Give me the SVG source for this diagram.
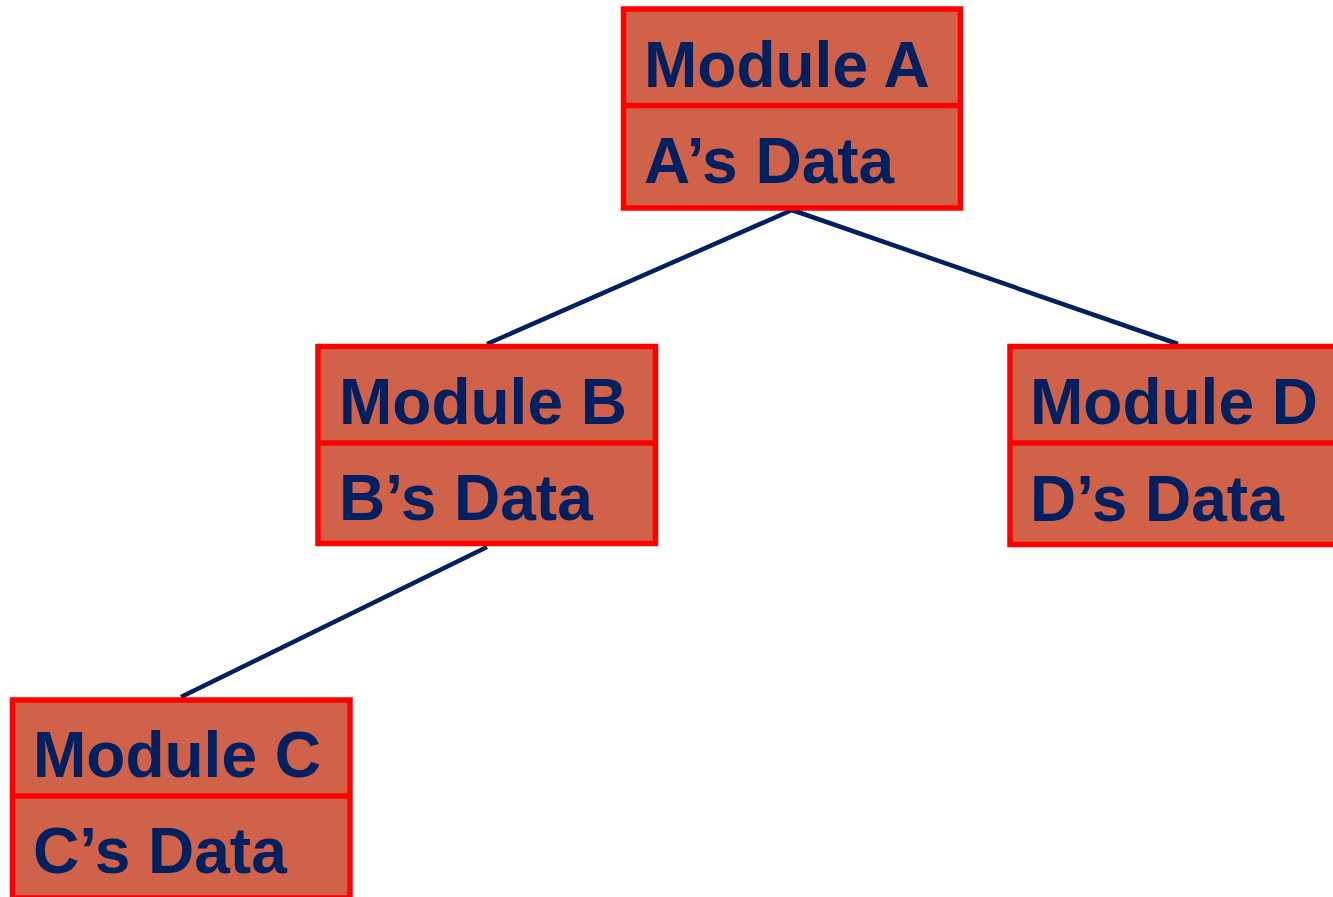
<svg xmlns="http://www.w3.org/2000/svg" width="1333" height="897" viewBox="0 0 1333 897">
  <style>
    .box { fill: #D0624A; stroke: #FF0000; stroke-width: 5.5; }
    .div { stroke: #FF0000; stroke-width: 5.5; }
    .label { font-family: "Liberation Sans", Arial, sans-serif; font-weight: bold; font-size: 64px; fill: #002060; }
    .link { stroke: #002060; stroke-width: 4.5; fill: none; }
  </style>
  <rect width="1333" height="897" fill="#FFFFFF"/>

  <g id="connectors">
    <line class="link" x1="792" y1="210" x2="487" y2="344"/>
    <line class="link" x1="792" y1="210" x2="1178" y2="344"/>
    <line class="link" x1="487" y1="547" x2="181" y2="697"/>
  </g>

  <g id="module-a">
    <rect class="box" x="623.5" y="9" width="337" height="199"/>
    <line class="div" x1="623.5" y1="105.5" x2="960.5" y2="105.5"/>
    <text class="label" x="644" y="87">Module A</text>
    <text class="label" x="644" y="183">A’s Data</text>
  </g>

  <g id="module-b">
    <rect class="box" x="318" y="346.5" width="337.5" height="197"/>
    <line class="div" x1="318" y1="443" x2="655.5" y2="443"/>
    <text class="label" x="339" y="424">Module B</text>
    <text class="label" x="339" y="520">B’s Data</text>
  </g>

  <g id="module-d">
    <rect class="box" x="1010" y="346.5" width="337.5" height="198"/>
    <line class="div" x1="1010" y1="443" x2="1347.5" y2="443"/>
    <text class="label" x="1030" y="424">Module D</text>
    <text class="label" x="1030" y="521">D’s Data</text>
  </g>

  <g id="module-c">
    <rect class="box" x="12.5" y="700" width="337.5" height="198"/>
    <line class="div" x1="12.5" y1="796" x2="350" y2="796"/>
    <text class="label" x="33" y="777">Module C</text>
    <text class="label" x="33" y="873">C’s Data</text>
  </g>
</svg>
